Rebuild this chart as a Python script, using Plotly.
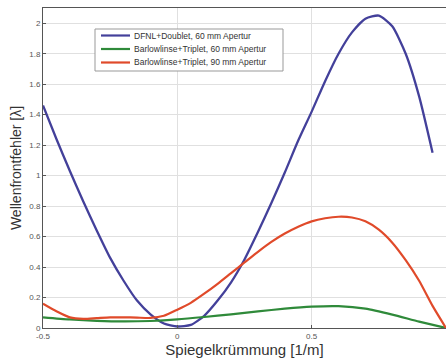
import plotly.graph_objects as go

x_blue = [-0.5, -0.45, -0.4, -0.35, -0.3, -0.25, -0.2, -0.15, -0.1, -0.05, 0.0, 0.05, 0.1, 0.15,
          0.2, 0.25, 0.3, 0.35, 0.4, 0.45, 0.5, 0.55, 0.6, 0.65, 0.7, 0.75, 0.8, 0.85, 0.9, 0.95]
y_blue = [1.46, 1.24, 1.03, 0.83, 0.64, 0.46, 0.31, 0.18, 0.09, 0.03, 0.01, 0.02, 0.08, 0.18,
          0.30, 0.45, 0.63, 0.82, 1.02, 1.23, 1.42, 1.62, 1.80, 1.94, 2.03, 2.05, 1.98, 1.80, 1.52, 1.15]

x_green = [-0.5, -0.4, -0.3, -0.2, -0.1, 0.0, 0.1, 0.2, 0.3, 0.4, 0.5, 0.6, 0.7, 0.8, 0.9, 1.0]
y_green = [0.07, 0.056, 0.047, 0.043, 0.046, 0.056, 0.072, 0.09, 0.109, 0.127, 0.14, 0.143, 0.127, 0.088, 0.042, 0.0]

x_red = [-0.5, -0.45, -0.4, -0.35, -0.3, -0.25, -0.2, -0.15, -0.1, -0.05, 0.0, 0.05, 0.1, 0.15,
         0.2, 0.25, 0.3, 0.35, 0.4, 0.45, 0.5, 0.55, 0.6, 0.65, 0.7, 0.75, 0.8, 0.85, 0.9, 0.95, 1.0]
y_red = [0.16, 0.11, 0.07, 0.06, 0.065, 0.07, 0.07, 0.068, 0.066, 0.08, 0.12, 0.165, 0.225, 0.29,
         0.36, 0.43, 0.50, 0.565, 0.62, 0.665, 0.70, 0.72, 0.73, 0.725, 0.70, 0.645, 0.56, 0.445, 0.31, 0.145, 0.0]

names = ["DFNL+Doublet, 60 mm Apertur",
         "Barlowlinse+Triplet, 60 mm Apertur",
         "Barlowlinse+Triplet, 90 mm Apertur"]
colors = ["#43409a", "#2f8a3a", "#e04a2a"]

x_ticks = [-0.5, 0, 0.5, 1]
x_labels = ["-0.5", "0", "0.5", "1"]
y_ticks = [0, 0.2, 0.4, 0.6, 0.8, 1, 1.2, 1.4, 1.6, 1.8, 2]
y_labels = ["0", "0.2", "0.4", "0.6", "0.8", "1", "1.2", "1.4", "1.6", "1.8", "2"]

W, H = 446, 363
ML, MR, MT, MB = 43, 0, 8, 35
PW, PH = W - ML - MR, H - MT - MB


def px(xp):
    return (xp - ML) / PW


def py(yp):
    return (H - MB - yp) / PH


fig = go.Figure()
for xs, ys, nm, col, wd in [(x_blue, y_blue, names[0], colors[0], 2.3),
                            (x_green, y_green, names[1], colors[1], 2.2),
                            (x_red, y_red, names[2], colors[2], 2.2)]:
    fig.add_trace(go.Scatter(x=xs, y=ys, mode="lines", name=nm, showlegend=False,
                             line=dict(color=col, width=wd, shape="spline", smoothing=0.6)))

# compact legend box (MATLAB style)
shapes = [dict(type="rect", xref="paper", yref="paper",
               x0=px(95), x1=px(283), y0=py(71), y1=py(29),
               line=dict(color="#999", width=1), fillcolor="white", layer="above")]
annotations = []
rows = [35.5, 49, 62.5]
for nm, col, r in zip(names, colors, rows):
    shapes.append(dict(type="line", xref="paper", yref="paper",
                       x0=px(101), x1=px(130), y0=py(r), y1=py(r),
                       line=dict(color=col, width=2.2), layer="above"))
    annotations.append(dict(xref="paper", yref="paper", x=px(132), y=py(r),
                            xanchor="left", yanchor="middle", showarrow=False,
                            text=nm, font=dict(size=8.5, color="#333")))

fig.update_layout(
    width=W, height=H,
    margin=dict(l=ML, r=MR, t=MT, b=MB),
    paper_bgcolor="white", plot_bgcolor="white",
    font=dict(family="Liberation Sans, Arial, sans-serif", color="#444"),
    showlegend=False,
    shapes=shapes, annotations=annotations,
)
fig.update_xaxes(range=[-0.5, 1.0], tickvals=x_ticks, ticktext=x_labels,
                 showgrid=True, gridcolor="#e0e0e0", gridwidth=1,
                 showline=True, linecolor="#555", linewidth=1, mirror=True,
                 ticks="inside", ticklen=3, tickcolor="#555",
                 tickfont=dict(size=8, color="#555"), zeroline=False,
                 title=dict(text="Spiegelkrümmung [1/m]", font=dict(size=15, color="#333"), standoff=0))
fig.update_yaxes(range=[0, 2.1], tickvals=y_ticks, ticktext=y_labels,
                 showgrid=True, gridcolor="#e0e0e0", gridwidth=1,
                 showline=True, linecolor="#555", linewidth=1, mirror=True,
                 ticks="inside", ticklen=3, tickcolor="#555",
                 tickfont=dict(size=8, color="#555"), zeroline=False,
                 title=dict(text="Wellenfrontfehler [λ]", font=dict(size=14, color="#333"), standoff=4))

fig.write_html("out.html", config={"displayModeBar": False},
               post_script="document.body.style.margin='0';document.body.style.overflow='hidden';")
